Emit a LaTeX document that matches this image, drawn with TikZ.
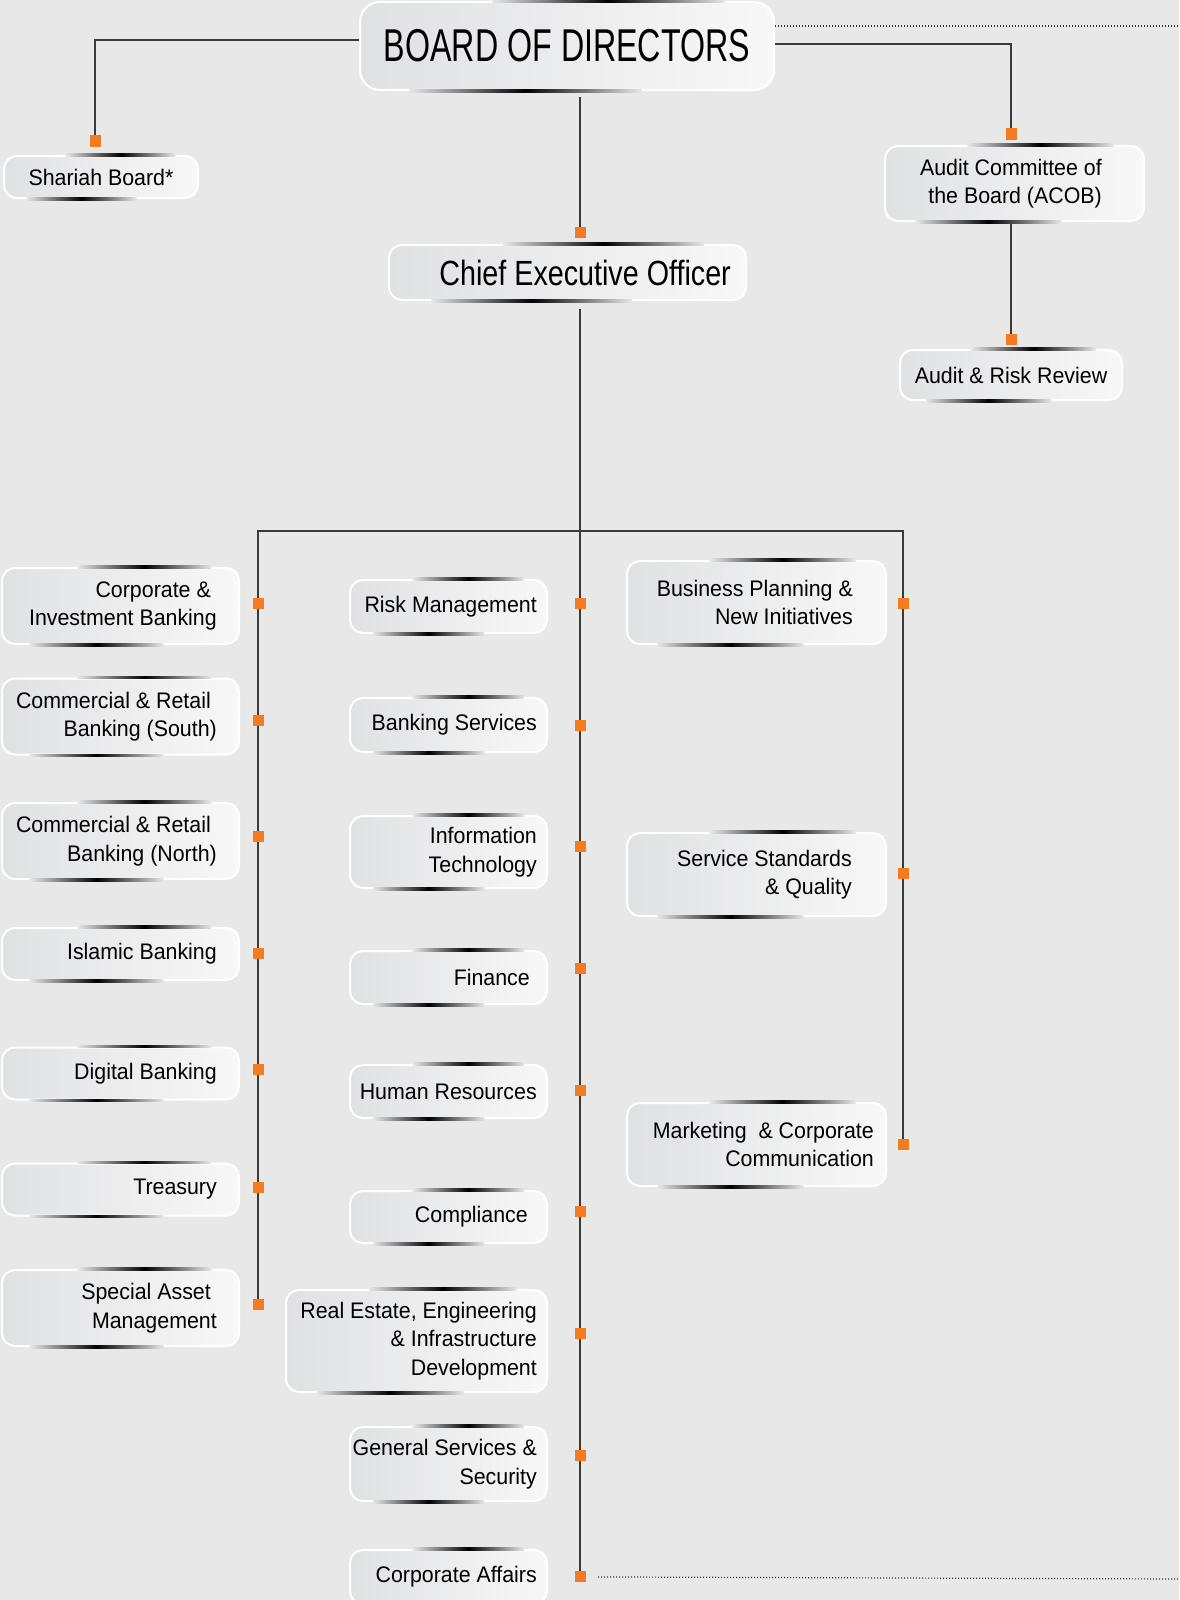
\documentclass[tikz,border=0pt]{standalone}
\usepackage{fontspec}
\setmainfont{Liberation Sans}[FakeStretch=0.95]
\newfontfamily\boardfont{Liberation Sans}[FakeStretch=0.70]
\newfontfamily\ceofont{Liberation Sans}[FakeStretch=0.82]
\usetikzlibrary{calc}

\definecolor{bgc}{HTML}{E8E8E8}
\definecolor{boxl}{HTML}{E0E1E3}
\definecolor{boxr}{HTML}{F8F8F8}
\definecolor{markc}{HTML}{F47B20}
\definecolor{linec}{HTML}{3A3A3A}

\tikzset{
  unit/.style={rounded corners=13pt, draw=white, line width=2pt,
    left color=boxl, right color=boxr, inner sep=0pt,
    align=center, font=\fontsize{22.5}{28}\selectfont},
  txt/.style={anchor=east, align=right, inner sep=0pt, font=\fontsize{22.5}{28.5}\selectfont},
  tag/.style 2 args={label={[txt, xshift=-#1]east:{#2}}},
  lunit/.style={unit, minimum width=237pt},
  munit/.style={unit, minimum width=197pt},
  runit/.style={unit, minimum width=259pt, minimum height=83pt},
  orgmark/.style={fill=markc, minimum size=11pt, inner sep=0pt},
  link/.style={draw=linec, line width=1.3pt},
  dotline/.style={draw=black!80, line width=1.2pt, dash pattern=on 1.2pt off 1.8pt}
}

\begin{document}
\begin{tikzpicture}[x=1pt, y=-1pt]

    \fill[bgc] (0,0) rectangle (1179,1600);
    \useasboundingbox (0,0) rectangle (1179,1600);

    % Top level
    \node[unit, rounded corners=20pt, minimum width=414pt, minimum height=88pt,
      font=\boardfont\fontsize{46}{50}\selectfont] (board) at (567,46) {BOARD OF DIRECTORS};
    \node[unit, minimum width=194pt, minimum height=42pt] (shariah) at (101,177) {Shariah Board*};
    \node[unit, minimum width=259pt, minimum height=75pt,
      tag={43pt}{Audit Committee of\\the Board (ACOB)}] (acob) at (1014.5,183.5) {};
    \node[unit, minimum width=222pt, minimum height=50pt] (arr) at (1011,375) {Audit \& Risk Review};
    \node[unit, minimum width=357pt, minimum height=55pt,
      label={[txt, xshift=-16pt, font=\ceofont\fontsize{35}{40}\selectfont]east:Chief Executive Officer}] (ceo) at (567.5,272.5) {};

    % Left column
    \node[lunit, minimum height=76pt, tag={23pt}{Corporate \&\hspace*{6pt}\\Investment Banking}] (corp) at (120.5,606) {};
    \node[lunit, minimum height=76pt, tag={23pt}{Commercial \& Retail\hspace*{6pt}\\Banking (South)}] (crbs) at (120.5,716.5) {};
    \node[lunit, minimum height=76pt, tag={23pt}{Commercial \& Retail\hspace*{6pt}\\Banking (North)}] (crbn) at (120.5,841) {};
    \node[lunit, minimum height=52pt, tag={23pt}{Islamic Banking}] (islamic) at (120.5,954) {};
    \node[lunit, minimum height=52pt, tag={23pt}{Digital Banking}] (digital) at (120.5,1073.5) {};
    \node[lunit, minimum height=52pt, tag={23pt}{Treasury}] (treasury) at (120.5,1189.5) {};
    \node[lunit, minimum height=76pt, tag={23pt}{Special Asset\hspace*{6pt}\\Management}] (sam) at (120.5,1308) {};

    % Middle column
    \node[munit, minimum height=53pt, tag={11pt}{Risk Management}] (risk) at (448.5,606.5) {};
    \node[munit, minimum height=54pt, tag={11pt}{Banking Services}] (banking) at (448.5,725) {};
    \node[munit, minimum height=72pt, tag={11pt}{Information\\Technology}] (infotech) at (448.5,852) {};
    \node[munit, minimum height=53pt, tag={18pt}{Finance}] (finance) at (448.5,977.5) {};
    \node[munit, minimum height=53pt, tag={11pt}{Human Resources}] (hr) at (448.5,1091.5) {};
    \node[munit, minimum height=52pt, tag={20pt}{Compliance}] (compliance) at (448.5,1217) {};
    \node[unit, minimum width=261pt, minimum height=102pt,
      tag={11pt}{Real Estate, Engineering\\\& Infrastructure\\Development}] (realestate) at (416.5,1341) {};
    \node[munit, minimum height=74pt, tag={11pt}{General Services \&\\Security}] (gss) at (448.5,1464) {};
    \node[munit, minimum height=54pt, tag={11pt}{Corporate Affairs}] (corpaff) at (448.5,1577) {};

    % Right column
    \node[runit, tag={34pt}{Business Planning \&\\New Initiatives}] (bpni) at (756.5,602.5) {};
    \node[runit, tag={35pt}{Service Standards\\\& Quality}] (ssq) at (756.5,874.5) {};
    \node[runit, tag={13pt}{Marketing\ \ \& Corporate\\Communication}] (mcc) at (756.5,1144.5) {};

    % accents on top and bottom edges
    \foreach \n in {board,shariah,acob,arr,ceo,corp,crbs,crbn,islamic,digital,treasury,sam,
        risk,banking,infotech,finance,hr,compliance,realestate,gss,corpaff,bpni,ssq,mcc} {
      \shade[left color=bgc, right color=bgc, middle color=black]
        ($(\n.north west)!0.32!(\n.north east)+(0,-1.1)$) rectangle ($(\n.north west)!0.88!(\n.north east)+(0,1.1)$);
      \shade[left color=bgc, right color=bgc, middle color=black]
        ($(\n.south west)!0.12!(\n.south east)+(0,-1.1)$) rectangle ($(\n.south west)!0.68!(\n.south east)+(0,1.1)$);
    }

    % Marker points
    \coordinate (msh) at (95,141);
    \coordinate (macb) at (1011,134);
    \coordinate (macr) at (1011,339);
    \coordinate (mceo) at (580,232);
    \foreach \i/\y in {1/603.3,2/720.7,3/836,4/953.4,5/1069.8,6/1187.2,7/1304.6}
      \coordinate (l\i) at (258,\y);
    \foreach \i in {1,...,9}
      \coordinate (c\i) at (580,603.3+121.7*\i-121.7);
    \foreach \i/\y in {1/603.3,2/873.8,3/1144.3}
      \coordinate (r\i) at (903,\y);
    \coordinate (bl) at (258,531);
    \coordinate (br) at (903,531);
    \coordinate (topend) at (1179,26);
    \coordinate (botend) at (1179,1579);

    % Connectors
    \draw[link] ([yshift=6pt]board.west) -| (msh);
    \draw[link] ([yshift=2pt]board.east) -| (macb);
    \draw[dotline] ([yshift=20pt]board.east) -- (topend);
    \draw[link] ([yshift=-6pt]board.south -| mceo) -- (mceo);
    \draw[link] ([yshift=-2pt]acob.south -| macr) -- (macr);
    \draw[link] ([yshift=-8pt]ceo.south -| c9) -- (c9);
    \draw[link] (l7) -- (bl) -- (br) -- (r3);
    \draw[dotline] ([xshift=18pt]c9) -- (botend);

    \foreach \m in {msh,macb,macr,mceo,l1,l2,l3,l4,l5,l6,l7,c1,c2,c3,c4,c5,c6,c7,c8,c9,r1,r2,r3}
      \node[orgmark] at (\m) {};

\end{tikzpicture}
\end{document}
